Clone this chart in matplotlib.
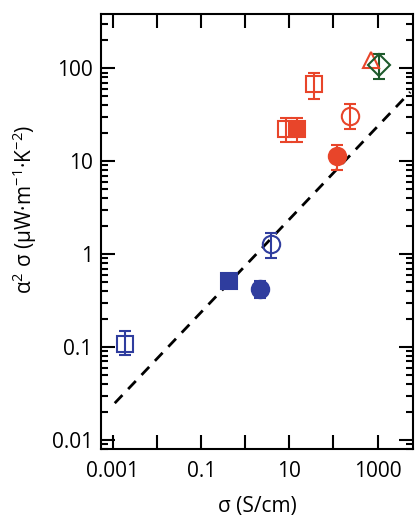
import numpy as np
import matplotlib
matplotlib.use("Agg")
import matplotlib.pyplot as plt
from matplotlib.ticker import LogLocator, NullFormatter, FixedLocator, FixedFormatter

plt.rcParams['font.family'] = ['Open Sans', 'DejaVu Sans']
plt.rcParams['mathtext.default'] = 'regular'

BLUE = "#2f3d9e"
RED = "#e8452a"
GREEN = "#1e5a2c"

# each point: sigma (S/cm), power factor, lower err, upper err
labels = ["blue_open_sq", "blue_fill_sq", "blue_fill_circ", "blue_open_circ",
          "red_open_sq_a", "red_fill_sq", "red_open_sq_b", "red_open_circ",
          "red_fill_circ", "red_open_tri", "green_open_dia"]
sigma = [0.0019, 0.43, 2.2, 3.8, 8.5, 15, 37, 235, 123, 725, 1100]
pf = [0.108, 0.52, 0.42, 1.27, 22.5, 22.5, 68, 31, 11.4, 124, 110]
pf_lo = [0.082, None, 0.34, 0.90, 16, 16, 47, 22, 8.0, None, 76]
pf_hi = [0.148, None, 0.52, 1.68, 29, 29, 89, 41, 14.8, None, 144]

# dashed guide: y = a * sigma^0.5
line_a = 0.75
line_x = [0.0011, 5500]

styles = [
    dict(marker="s", color=BLUE, fill=False),
    dict(marker="s", color=BLUE, fill=True),
    dict(marker="o", color=BLUE, fill=True),
    dict(marker="o", color=BLUE, fill=False),
    dict(marker="s", color=RED, fill=False),
    dict(marker="s", color=RED, fill=True),
    dict(marker="s", color=RED, fill=False),
    dict(marker="o", color=RED, fill=False),
    dict(marker="o", color=RED, fill=True),
    dict(marker="^", color=RED, fill=False),
    dict(marker="D", color=GREEN, fill=False),
]

fig = plt.figure(figsize=(4.2, 5.19), dpi=100)
ax = fig.add_axes([0.2405, 0.135, 0.7425, 0.838])

lx = np.array(line_x)
ax.plot(lx, line_a * lx ** 0.5, color="black", lw=2, dashes=(4, 3), zorder=1)

for i in range(len(sigma)):
    st = styles[i]
    ms = {"s": 12, "o": 12.5, "^": 12, "D": 11}[st["marker"]]
    if pf_lo[i] is not None:
        yerr = [[pf[i] - pf_lo[i]], [pf_hi[i] - pf[i]]]
        ax.errorbar([sigma[i]], [pf[i]], yerr=yerr, fmt="none", ecolor=st["color"],
                    elinewidth=1.5, capsize=4, capthick=1.5, zorder=2)
    ax.plot([sigma[i]], [pf[i]], marker=st["marker"], ms=ms, ls="none",
            mec=st["color"], mfc=st["color"] if st["fill"] else "none",
            mew=1.5, zorder=3 if not st["fill"] else 4)

ax.set_xscale("log")
ax.set_yscale("log")
ax.set_xlim(10 ** -3.27, 10 ** 3.80)
ax.set_ylim(10 ** -2.097, 10 ** 2.585)

ax.xaxis.set_major_locator(FixedLocator([1e-3, 1e-2, 1e-1, 1, 10, 100, 1000]))
ax.xaxis.set_major_formatter(FixedFormatter(["0.001", "", "0.1", "", "10", "", "1000"]))
ax.xaxis.set_minor_locator(FixedLocator([]))
ax.yaxis.set_major_locator(FixedLocator([0.01, 0.1, 1, 10, 100]))
ax.yaxis.set_major_formatter(FixedFormatter(["0.01", "0.1", "1", "10", "100"]))
ax.yaxis.set_minor_locator(LogLocator(base=10, subs=np.arange(2, 10), numticks=20))
ax.yaxis.set_minor_formatter(NullFormatter())

ax.tick_params(which="both", direction="in", top=True, right=True, width=1.5)
ax.tick_params(which="major", length=10, labelsize=15)
ax.tick_params(axis="x", which="major", pad=9)
ax.tick_params(axis="y", which="major", pad=6)
ax.tick_params(which="minor", length=5)
for sp in ax.spines.values():
    sp.set_linewidth(1.5)

ax.set_xlabel("σ (S/cm)", fontsize=15, labelpad=10)
ax.set_ylabel("α$^{2}$ σ (μW·m$^{-1}$·K$^{-2}$)", fontsize=15, labelpad=2)
ax.yaxis.set_label_coords(-0.2, 0.55)

fig.savefig("out.png", dpi=100)
